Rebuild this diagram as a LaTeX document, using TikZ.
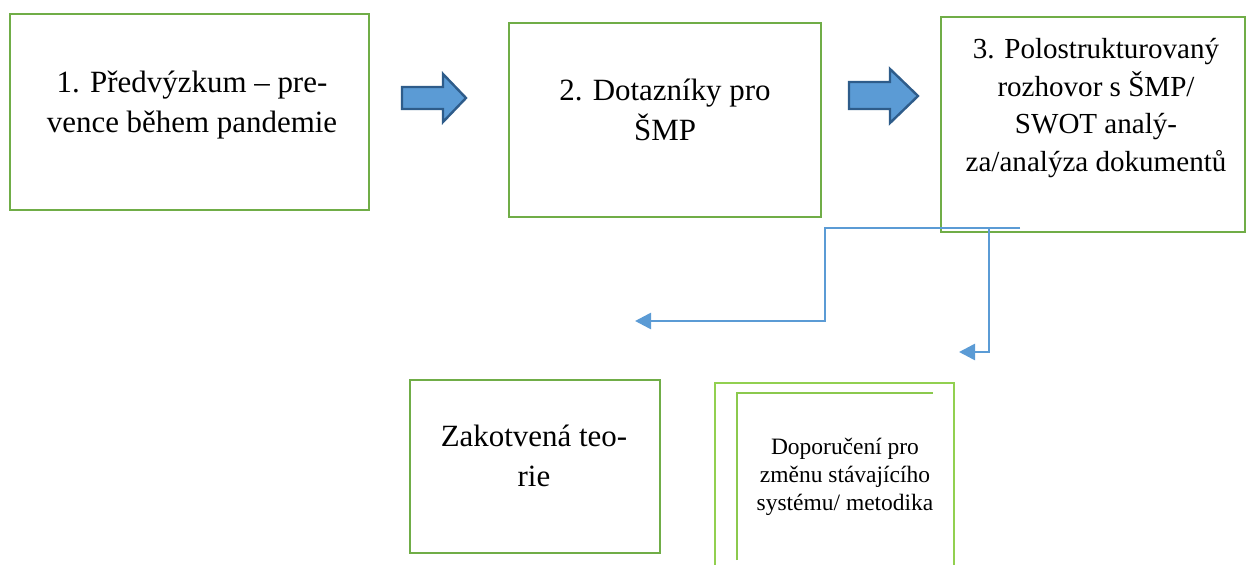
\documentclass[tikz,border=0pt]{standalone}
\usepackage{fontspec}
\setmainfont{LiberationSerif}[Extension=.ttf,UprightFont=*-Regular,BoldFont=*-Bold]
\usetikzlibrary{arrows.meta,positioning,calc}
\definecolor{boxgreen}{HTML}{70AD47}
\definecolor{lightgreen}{HTML}{92D050}
\definecolor{arrowblue}{HTML}{5B9BD5}
\definecolor{arrowedge}{HTML}{2E5C8A}

\begin{document}
\begin{tikzpicture}[x=0.375pt,y=-0.375pt,
  boxline/.style={boxgreen,line width=1pt},
  bigtext/.style={align=center,font=\fontsize{11.6}{15}\selectfont},
  smalltext/.style={align=center,font=\fontsize{8.8}{10.5}\selectfont},
  blockarrow/.style={draw=arrowedge,fill=arrowblue,line width=0.9pt,line join=miter},
  flow/.style={arrowblue,line width=1pt,-{Triangle[length=6pt,width=6pt]}}]
\useasboundingbox (0,0) rectangle (1246,565);

% Step 1 box
\draw[boxline] (10,14) rectangle (369,210);
\node[bigtext] (pre) at (192,105) {1. Předvýzkum -- pre-\\vence během pandemie};

% Block arrow 1
\draw[blockarrow] (402,87) -- (443,87) -- (443,74) -- (466,98) -- (443,122) -- (443,109) -- (402,109) -- cycle;

% Step 2 box
\draw[boxline] (509,23) rectangle (821,217);
\node[bigtext] (dotazniky) at (665,110) {2. Dotazníky pro\\ŠMP};

% Block arrow 2
\draw[blockarrow] (849,82) -- (890,82) -- (890,69) -- (918,96) -- (890,123) -- (890,109) -- (849,109) -- cycle;

% Step 3 box
\draw[boxline] (941,17) rectangle (1245,232);
\node[align=center,font=\fontsize{10.9}{14.1}\selectfont] (rozhovor) at (1096,108) {3. Polostrukturovaný\\rozhovor s ŠMP/\\SWOT analý-\\za/analýza dokumentů};

% Connectors
\coordinate (split) at (1020,228);
\coordinate (tipteorie) at (635,321);
\coordinate (tipdop) at (959,352);
\draw[flow] (split) -- (825,228) |- (tipteorie);
\draw[flow] (989,228) |- (tipdop);

% Grounded theory box
\draw[boxline] (410,380) rectangle (660,553);
\node[bigtext] (teorie) at (534,456) {Zakotvená teo-\\rie};

% Recommendation box (open at the bottom)
\draw[lightgreen,line width=1pt] (715,566) -- (715,383) -- (954,383) -- (954,566);
\draw[lightgreen!80!boxgreen,line width=0.8pt] (737,560) -- (737,393) -- (933,393);
\node[smalltext] (doporuceni) at (845,477) {Doporučení pro\\změnu stávajícího\\systému/ metodika};
\end{tikzpicture}
\end{document}
